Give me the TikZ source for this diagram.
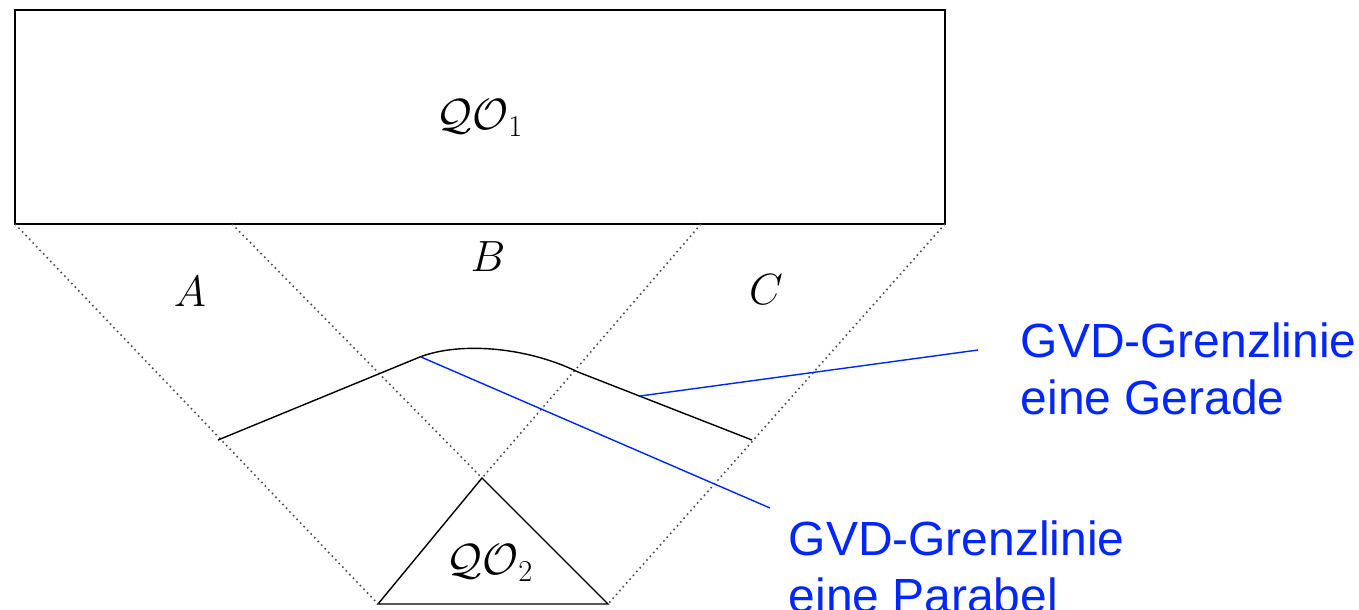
\documentclass[tikz,border=0pt]{standalone}
\usepackage{fontspec}
\setmainfont{Liberation Sans}
\definecolor{noteB}{HTML}{0026FF}

\begin{document}
\begin{tikzpicture}[x=0.02cm,y=-0.02cm,line width=0.8pt]
\tikzset{gridline/.style={dotted,line width=0.9pt,black!70},
  zonelabel/.style={font=\fontsize{23}{28}\selectfont},
  notetext/.style={noteB,font=\fontsize{27.3}{32.6}\selectfont,align=left,anchor=north west,inner sep=0pt}}
\useasboundingbox (0,0) rectangle (1359,609);
% corners of QO1 and QO2
\coordinate (r1) at (15,224);
\coordinate (r2) at (232,224);
\coordinate (r3) at (701,224);
\coordinate (r4) at (945,224);
\coordinate (t1) at (378,604);
\coordinate (t2) at (608,604);
\coordinate (t3) at (482,478);
\draw (15,10) rectangle (r4);
\draw (t1) -- (t2) -- (t3) -- cycle;
\draw[gridline] (r1) -- (t1) (r2) -- (t3) (r3) -- (t3) (r4) -- (t2);
\node[zonelabel] (qo1) at (480,118) {$\mathcal{QO}_1$};
\node[zonelabel] (qo2) at (490,563) {$\mathcal{QO}_2$};
\node[zonelabel] (zA) at (190,292) {$A$};
\node[zonelabel] (zB) at (488,257) {$B$};
\node[zonelabel] (zC) at (766,290) {$C$};
% GVD boundary
\coordinate (g1) at (218,440);
\coordinate (g2) at (415,359);
\coordinate (g3) at (578,372);
\coordinate (g4) at (752,440);
\draw (g1) -- (g2) .. controls (455,341) and (525,346) .. (g3) -- (g4);
% notes
\node[notetext] (gerade) at (1020,322) {GVD-Grenzlinie\\eine Gerade};
\node[notetext] (parabel) at (788,520) {GVD-Grenzlinie\\eine Parabel};
\coordinate (pG) at (640,396);
\coordinate (pP) at (421,357);
\coordinate (eG) at (978,350);
\coordinate (eP) at (770,508);
\draw[noteB] (pG) -- (eG);
\draw[noteB] (pP) -- (eP);
\end{tikzpicture}
\end{document}
